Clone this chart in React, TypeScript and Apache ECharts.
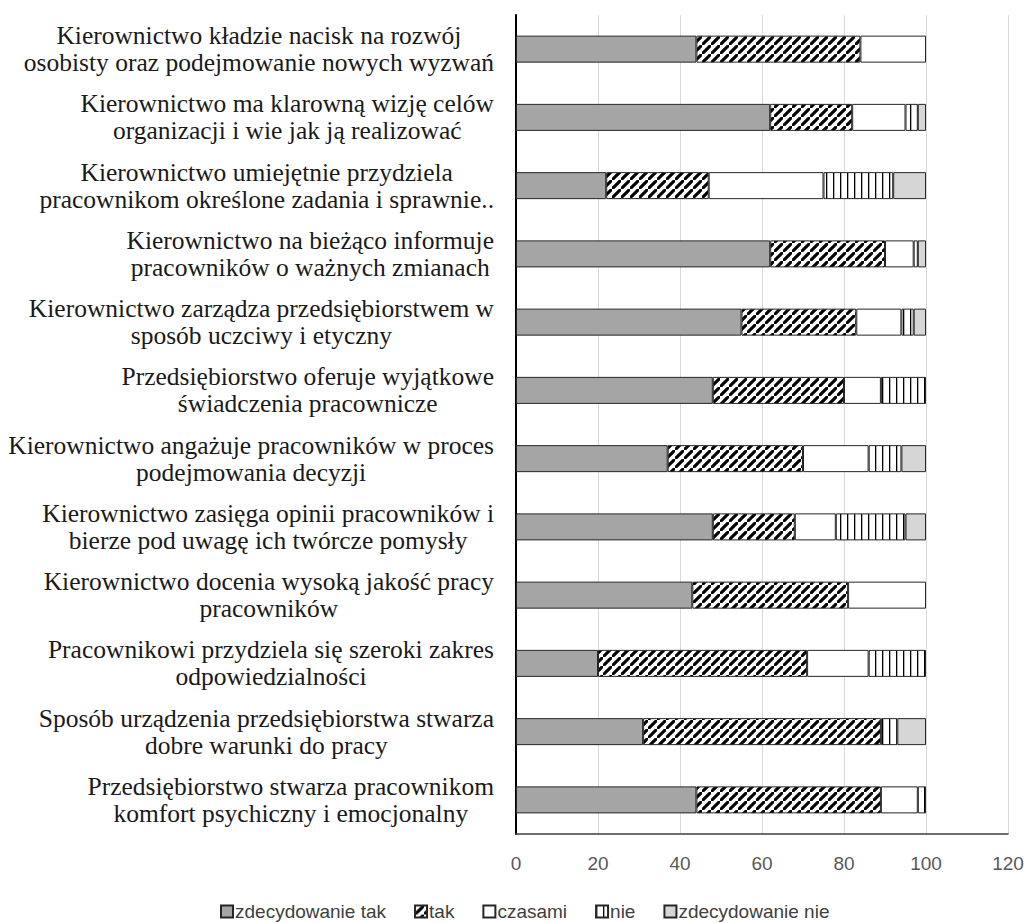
import React, { useEffect, useRef } from 'react';
import * as echarts from 'echarts';

const categories = [
  'Kierownictwo kładzie nacisk na rozwój\nosobisty oraz podejmowanie nowych wyzwań',
  'Kierownictwo ma klarowną wizję celów\norganizacji i wie jak ją realizować',
  'Kierownictwo umiejętnie przydziela\npracownikom określone zadania i sprawnie..',
  'Kierownictwo na bieżąco informuje\npracowników o ważnych zmianach',
  'Kierownictwo zarządza przedsiębiorstwem w\nsposób uczciwy i etyczny',
  'Przedsiębiorstwo oferuje wyjątkowe\nświadczenia pracownicze',
  'Kierownictwo angażuje pracowników w proces\npodejmowania decyzji',
  'Kierownictwo zasięga opinii pracowników i\nbierze pod uwagę ich twórcze pomysły',
  'Kierownictwo docenia wysoką jakość pracy\npracowników',
  'Pracownikowi przydziela się szeroki zakres\nodpowiedzialności',
  'Sposób urządzenia przedsiębiorstwa stwarza\ndobre warunki do pracy',
  'Przedsiębiorstwo stwarza pracownikom\nkomfort psychiczny i emocjonalny',
];

const seriesNames = ['zdecydowanie tak', 'tak', 'czasami', 'nie', 'zdecydowanie nie'];

const zdecydowanieTak = [44, 62, 22, 62, 55, 48, 37, 48, 43, 20, 31, 44];
const tak = [40, 20, 25, 28, 28, 32, 33, 20, 38, 51, 58, 45];
const czasami = [16, 13, 28, 7, 11, 9, 16, 10, 19, 15, 0, 9];
const nie = [0, 3, 17, 1, 3, 11, 8, 17, 0, 14, 4, 2];
const zdecydowanieNie = [0, 2, 8, 2, 3, 0, 6, 5, 0, 0, 7, 0];

const xTicks = [0, 20, 40, 60, 80, 100, 120];

function hatchCanvas() {
  const s = 9;
  const c = document.createElement('canvas');
  c.width = s;
  c.height = s;
  const ctx = c.getContext('2d')!;
  ctx.fillStyle = '#ffffff';
  ctx.fillRect(0, 0, s, s);
  ctx.strokeStyle = '#000000';
  ctx.lineWidth = 3.1;
  ctx.beginPath();
  ctx.moveTo(-1, s + 1);
  ctx.lineTo(s + 1, -1);
  ctx.moveTo(-s - 1, 1);
  ctx.lineTo(1, -s - 1);
  ctx.moveTo(s - 1, 2 * s + 1);
  ctx.lineTo(2 * s + 1, s - 1);
  ctx.stroke();
  return c;
}

function verticalCanvas() {
  const c = document.createElement('canvas');
  c.width = 7;
  c.height = 4;
  const ctx = c.getContext('2d')!;
  ctx.fillStyle = '#ffffff';
  ctx.fillRect(0, 0, 7, 4);
  ctx.fillStyle = '#000000';
  ctx.fillRect(0, 0, 1.3, 4);
  return c;
}

export default function App() {
  const ref = useRef<HTMLDivElement>(null);

  useEffect(() => {
    if (!ref.current) return;
    const chart = echarts.init(ref.current, undefined, { renderer: 'svg' });

    const fills: any[] = [
      '#a5a5a5',
      { image: hatchCanvas(), repeat: 'repeat' },
      '#ffffff',
      { image: verticalCanvas(), repeat: 'repeat' },
      '#d6d6d6',
    ];
    const values = [zdecydowanieTak, tak, czasami, nie, zdecydowanieNie];

    const serif = 'Liberation Serif';
    const sans = 'Liberation Sans';

    chart.setOption({
      animation: false,
      backgroundColor: '#ffffff',
      grid: {
        left: 516,
        right: 19,
        top: 15,
        height: 819,
        containLabel: false,
        outerBoundsMode: 'none',
      },
      legend: {
        top: 897,
        left: 215,
        itemWidth: 12,
        itemHeight: 12,
        itemGap: 28,
        icon: 'rect',
        textStyle: { fontFamily: sans, fontSize: 19, color: '#404040', padding: [0, 0, 0, -3] },
        data: seriesNames,
      },
      xAxis: {
        type: 'value',
        min: xTicks[0],
        max: xTicks[xTicks.length - 1],
        interval: 20,
        axisLine: { show: true, lineStyle: { color: '#404040', width: 1.5 } },
        axisTick: { show: false },
        splitLine: { show: true, lineStyle: { color: '#d9d9d9', width: 1 } },
        axisLabel: { margin: 20, fontFamily: sans, fontSize: 19, color: '#595959' },
      },
      yAxis: {
        type: 'category',
        inverse: true,
        data: categories,
        axisLine: { show: true, lineStyle: { color: '#000000', width: 2 } },
        axisTick: { show: false },
        axisLabel: {
          margin: 22,
          formatter: (v: string) => v.split('\n').map((l) => `{c|${l}}`).join('\n'),
          rich: {
            c: { align: 'center', fontFamily: serif, fontSize: 25.5, lineHeight: 27, color: '#1a1a1a' },
          },
        },
      },
      series: seriesNames.map((name, i) => ({
        name,
        type: 'bar',
        stack: 'total',
        barWidth: 27,
        itemStyle: { color: fills[i], borderColor: '#262626', borderWidth: 1 },
        data: values[i].map((v) => (v === 0 ? null : v)),
      })),
    });

    return () => chart.dispose();
  }, []);

  return (
    <div
      ref={ref}
      style={{ position: 'absolute', left: 0, top: 0, width: 1027, height: 923 }}
    />
  );
}
